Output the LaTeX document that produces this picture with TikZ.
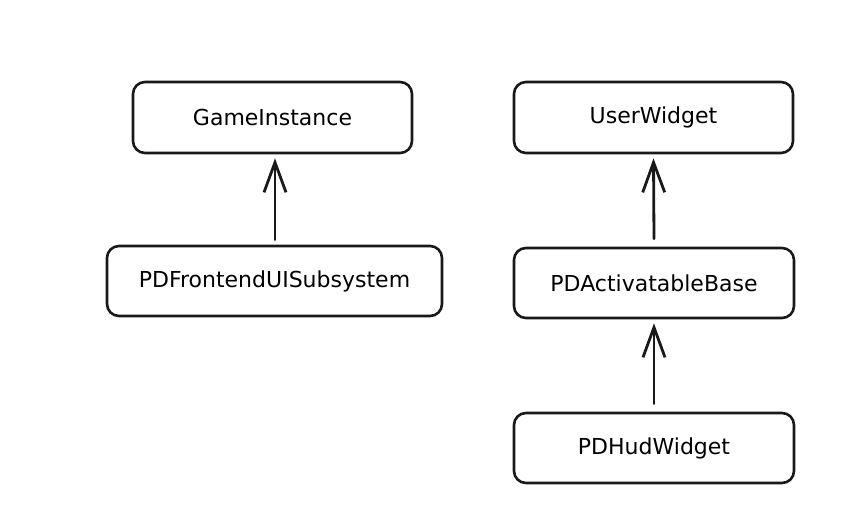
\documentclass[tikz,border=0pt]{standalone}
\usepackage{fontspec}
\setmainfont{DejaVu Sans}
\usetikzlibrary{arrows.meta}
\begin{document}
\begin{tikzpicture}[x=1pt,y=-1pt,
  box/.style={draw=black!90,line width=2.6pt,rounded corners=12pt,fill=white,inner sep=0pt,
    font=\fontsize{22}{24}\selectfont},
  inh/.style={draw=black!90,line width=2.8pt,line cap=round,-{Straight Barb[length=30pt,width=22pt,line width=2.8pt]}}]
\path[use as bounding box,fill=white] (0,0) rectangle (852,532);
\node[box,minimum width=279pt,minimum height=71pt] (gi) at (272.5,117.5) {GameInstance};
\node[box,minimum width=335pt,minimum height=70pt] (fe) at (274.5,281) {PDFrontendUISubsystem};
\node[box,minimum width=279pt,minimum height=71pt] (uw) at (653.5,117.5) {UserWidget};
\node[box,minimum width=280pt,minimum height=70pt] (ab) at (654,283) {PDActivatableBase};
\node[box,minimum width=280pt,minimum height=70pt] (hw) at (654,448) {PDHudWidget};
\draw[inh] ([yshift=5pt]fe.north -| 275,0) -- ([yshift=-4pt]gi.south -| 275,0);
\draw[inh] ([yshift=8pt]ab.north) -- ([yshift=-4pt]uw.south);
\draw[inh] ([yshift=8pt]hw.north) -- ([yshift=-4pt]ab.south);
\end{tikzpicture}
\end{document}
